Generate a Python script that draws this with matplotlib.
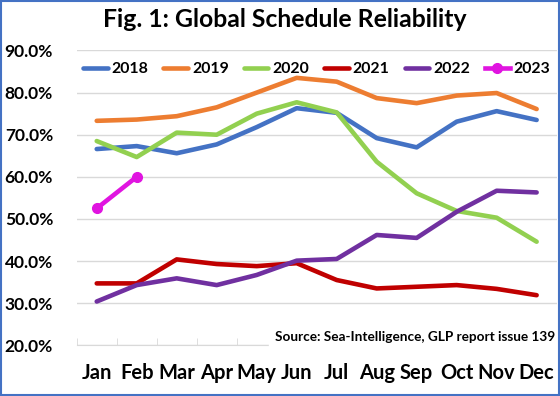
import numpy as np
from matplotlib import pyplot as plt
from matplotlib.patches import Rectangle

plt.rcParams['font.family'] = ['Lato', 'DejaVu Sans']
plt.rcParams['font.weight'] = 'bold'

months = ["Jan", "Feb", "Mar", "Apr", "May", "Jun",
          "Jul", "Aug", "Sep", "Oct", "Nov", "Dec"]

y2018 = [66.6, 67.3, 65.6, 67.7, 71.8, 76.3, 75.2, 69.2, 67.0, 73.1, 75.6, 73.5]
y2019 = [73.3, 73.6, 74.4, 76.5, 80.0, 83.5, 82.6, 78.7, 77.5, 79.3, 79.9, 76.1]
y2020 = [68.5, 64.7, 70.5, 70.0, 75.0, 77.7, 75.3, 63.6, 56.1, 51.9, 50.3, 44.6]
y2021 = [34.7, 34.7, 40.4, 39.3, 38.8, 39.5, 35.5, 33.5, 33.9, 34.3, 33.4, 31.9]
y2022 = [30.4, 34.3, 35.9, 34.3, 36.7, 40.1, 40.5, 46.2, 45.5, 51.7, 56.7, 56.3]
y2023 = [52.5, 60.0]

series = [
    ("2018", y2018, '#4472C4'),
    ("2019", y2019, '#ED7D31'),
    ("2020", y2020, '#92D050'),
    ("2021", y2021, '#C00000'),
    ("2022", y2022, '#7030A0'),
]

fig = plt.figure(figsize=(5.6, 3.96), dpi=100)
ax = fig.add_axes([0.137, 0.128, 0.857, 0.7445])

x = np.arange(len(months))
for name, vals, col in series:
    ax.plot(x, vals, '-', color=col, lw=3.3, label=name, solid_capstyle='round')
ax.plot(x[:len(y2023)], y2023, '-o', color='#E014E0', lw=3.3, ms=7,
        label="2023")

ax.set_xlim(-0.5, 11.5)
ax.set_ylim(20, 90)
ax.set_yticks(np.arange(20, 91, 10))
ax.set_yticklabels(["%.1f%%" % v for v in np.arange(20, 91, 10)],
                   fontsize=12.5, fontweight='bold')
ax.set_xticks(x)
ax.set_xticklabels(months, fontsize=14.5, fontweight='bold')
ax.set_xticks(np.arange(-0.5, 12, 1), minor=True)

ax.grid(axis='y', color='#D9D9D9', lw=1)
ax.set_axisbelow(True)
for s in ['top', 'right', 'left']:
    ax.spines[s].set_visible(False)
ax.spines['bottom'].set_color('#D9D9D9')
ax.tick_params(axis='y', length=0, pad=17)
ax.tick_params(axis='x', which='major', length=0, pad=13)
ax.tick_params(axis='x', which='minor', direction='in', length=5,
               color='#D9D9D9')

ax.legend(loc='center', bbox_to_anchor=(0.5, 0.937), ncol=6, frameon=False,
          fontsize=11.4, handlelength=1.55, handletextpad=0.25,
          columnspacing=0.95, borderaxespad=0)

ax.text(0.997, 0.027, "Source: Sea-Intelligence, GLP report issue 139",
        transform=ax.transAxes, ha='right', va='center', fontsize=9.8,
        fontweight='bold', backgroundcolor='white')

fig.text(0.508, 0.952, "Fig. 1: Global Schedule Reliability", ha='center',
         va='center', fontsize=17.8, fontweight='bold')

fig.patches.append(Rectangle((0.001, 0.003), 0.997, 0.995,
                             transform=fig.transFigure, fill=False,
                             edgecolor='#4472C4', lw=1.5))

fig.savefig("out.png", dpi=100)
